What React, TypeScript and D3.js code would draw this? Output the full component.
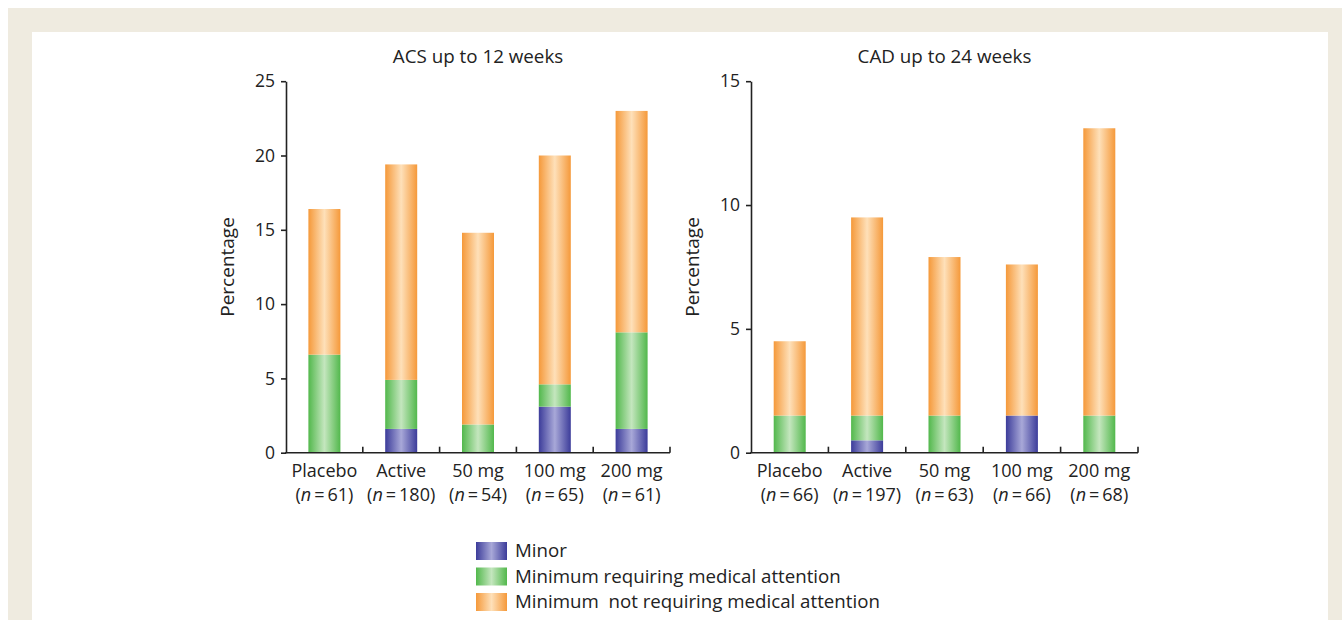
import { useEffect, useRef } from 'react'
import * as d3 from 'd3'

const categories = ['Placebo', 'Active', '50 mg', '100 mg', '200 mg']
const keys = ['minor', 'medical', 'notMedical']
const legendLabels = ['Minor', 'Minimum requiring medical attention', 'Minimum  not requiring medical attention']

// ACS up to 12 weeks
const acsN = [61, 180, 54, 65, 61]
const acsMinor = [0, 1.6, 0, 3.1, 1.6]
const acsMedical = [6.6, 3.3, 1.9, 1.5, 6.5]
const acsNotMedical = [9.8, 14.5, 12.9, 15.4, 14.9]
const acsTicks = [0, 5, 10, 15, 20, 25]

// CAD up to 24 weeks
const cadN = [66, 197, 63, 66, 68]
const cadMinor = [0, 0.5, 0, 1.5, 0]
const cadMedical = [1.5, 1.0, 1.5, 0, 1.5]
const cadNotMedical = [3.0, 8.0, 6.4, 6.1, 11.6]
const cadTicks = [0, 5, 10, 15]

const FONT = '"Open Sans", Lato, sans-serif'
const INK = '#222'

const gradients = [
  { id: 'g-minor', edge: '#3c3c9a', mid: '#a8a8d8' },
  { id: 'g-medical', edge: '#52b84c', mid: '#c4e6be' },
  { id: 'g-notMedical', edge: '#f5993a', mid: '#fee0b9' },
]

function Panel({ title, n, minor, medical, notMedical, ticks, left, right }) {
  const yRef = useRef(null)
  const top = 81.2
  const bottom = 452.7
  const x = d3.scaleBand().domain(categories).range([left, right]).padding(0)
  const y = d3.scaleLinear().domain([0, ticks[ticks.length - 1]]).range([bottom, top])
  const rows = categories.map((c, i) => ({ cat: c, minor: minor[i], medical: medical[i], notMedical: notMedical[i] }))
  const stacked = d3.stack().keys(keys)(rows)
  const barW = 32

  useEffect(() => {
    const g = d3.select(yRef.current)
    g.selectAll('*').remove()
    g.call(d3.axisLeft(y).tickValues(ticks).tickSize(5).tickSizeOuter(0).tickPadding(6))
    g.selectAll('path,line').attr('stroke', INK).attr('stroke-width', 1.6)
    g.selectAll('text').attr('font-family', FONT).attr('font-size', 17.5).attr('fill', INK)
  }, [])

  return (
    <g>
      <text x={(left + right) / 2} y={63} textAnchor="middle" fontFamily={FONT} fontSize={18.8} fill={INK}>
        {title}
      </text>
      <text
        transform={`translate(${left - 52},${(top + bottom) / 2}) rotate(-90)`}
        textAnchor="middle"
        fontFamily={FONT}
        fontSize={19}
        fill={INK}
      >
        Percentage
      </text>
      {stacked.map((s, si) => (
        <g key={s.key} fill={`url(#${gradients[si].id})`}>
          {s.map((d, i) =>
            d[1] - d[0] > 0 ? (
              <rect
                key={i}
                x={x(categories[i]) + (x.bandwidth() - barW) / 2}
                y={y(d[1])}
                width={barW}
                height={y(d[0]) - y(d[1])}
              />
            ) : null
          )}
        </g>
      ))}
      <g ref={yRef} transform={`translate(${left},0)`} />
      <line x1={left - 0.8} x2={right} y1={bottom} y2={bottom} stroke={INK} strokeWidth={1.6} />
      {categories.map((c) => (
        <line
          key={c}
          x1={x(c) + x.bandwidth()}
          x2={x(c) + x.bandwidth()}
          y1={bottom}
          y2={bottom - 6}
          stroke={INK}
          strokeWidth={1.6}
        />
      ))}
      {categories.map((c, i) => (
        <g key={c} fontFamily={FONT} fontSize={18} fill={INK} textAnchor="middle">
          <text x={x(c) + x.bandwidth() / 2} y={477}>
            {c}
          </text>
          <text x={x(c) + x.bandwidth() / 2} y={501}>
            (<tspan fontStyle="italic">n</tspan>{'\u2009=\u2009'}{n[i]})
          </text>
        </g>
      ))}
    </g>
  )
}

export default function App() {
  return (
    <svg width={1342} height={620} style={{ position: 'absolute', left: 0, top: 0, display: 'block' }}>
      <defs>
        {gradients.map((g) => (
          <linearGradient key={g.id} id={g.id} x1="0" x2="1" y1="0" y2="0">
            <stop offset="0" stopColor={g.edge} />
            <stop offset="0.5" stopColor={g.mid} />
            <stop offset="1" stopColor={g.edge} />
          </linearGradient>
        ))}
      </defs>
      <rect x={8} y={8} width={1334} height={612} fill="#efebe0" />
      <rect x={32} y={32} width={1296} height={588} fill="#fff" />
      <Panel
        title="ACS up to 12 weeks"
        n={acsN}
        minor={acsMinor}
        medical={acsMedical}
        notMedical={acsNotMedical}
        ticks={acsTicks}
        left={286}
        right={670}
      />
      <Panel
        title="CAD up to 24 weeks"
        n={cadN}
        minor={cadMinor}
        medical={cadMedical}
        notMedical={cadNotMedical}
        ticks={cadTicks}
        left={751}
        right={1138}
      />
      {legendLabels.map((label, i) => (
        <g key={label} transform={`translate(476,${542 + i * 25.5})`}>
          <rect width={31} height={18} fill={`url(#${gradients[i].id})`} />
          <text x={39} y={15} fontFamily={FONT} fontSize={18.7} fill={INK} style={{ whiteSpace: 'pre' }}>
            {label}
          </text>
        </g>
      ))}
    </svg>
  )
}
